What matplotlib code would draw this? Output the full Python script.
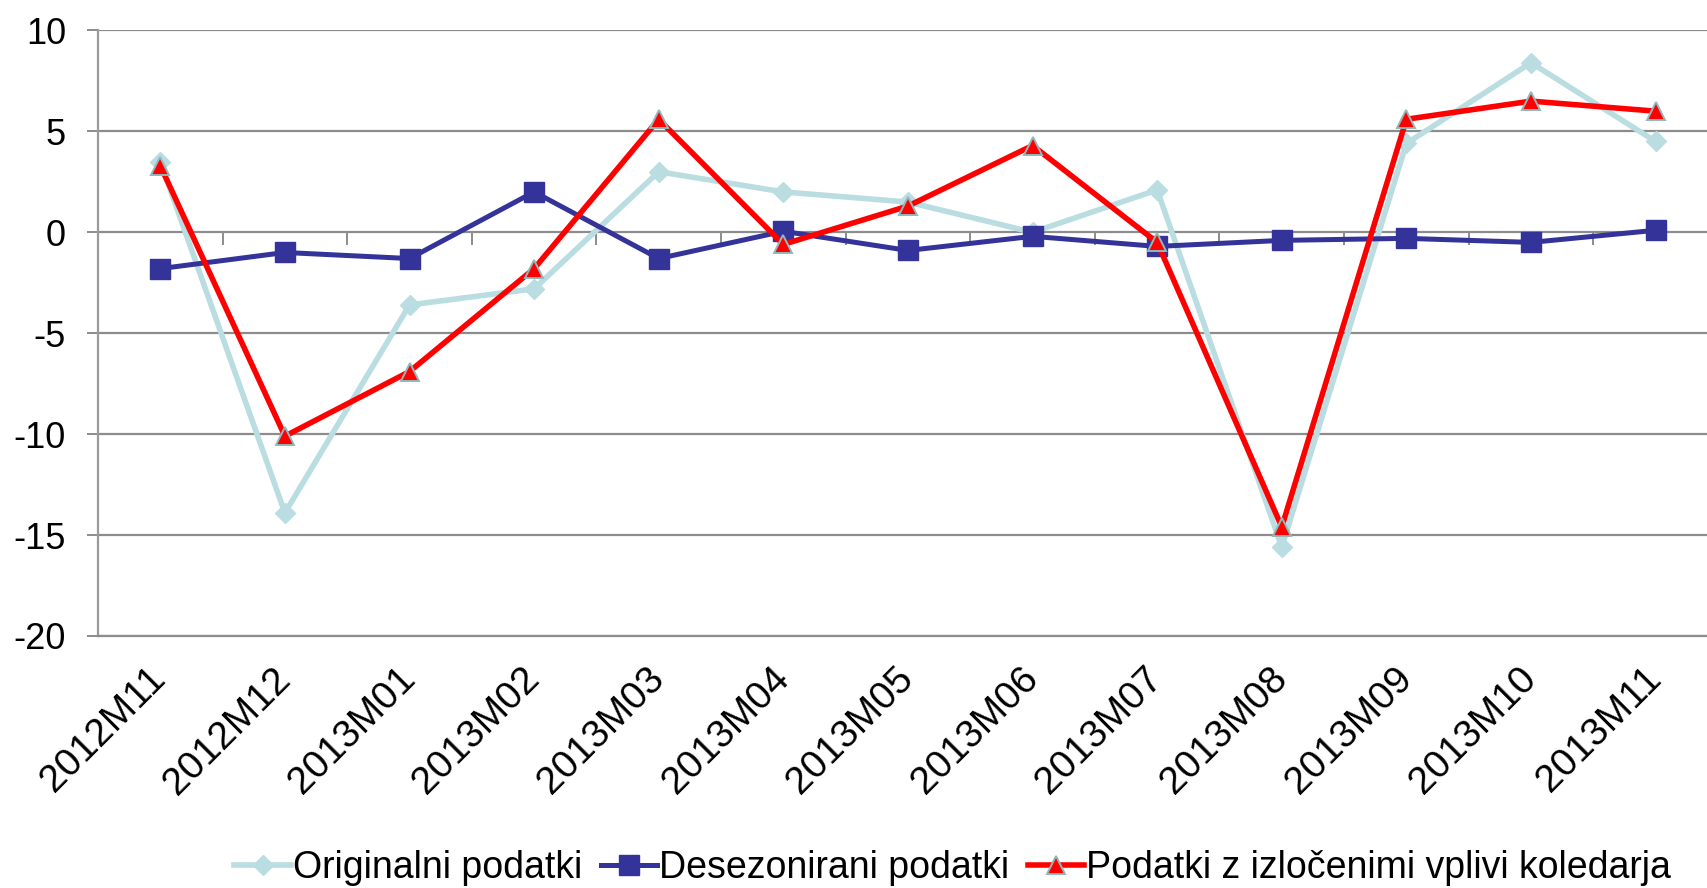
import matplotlib.pyplot as plt
from matplotlib.ticker import MultipleLocator, FixedLocator

plt.rcParams['font.family'] = ['Liberation Sans', 'DejaVu Sans']
plt.rcParams['axes.unicode_minus'] = False

meseci = ['2012M11', '2012M12', '2013M01', '2013M02', '2013M03', '2013M04', '2013M05',
          '2013M06', '2013M07', '2013M08', '2013M09', '2013M10', '2013M11']
originalni = [3.5, -13.9, -3.6, -2.8, 3.0, 2.0, 1.5, 0.0, 2.1, -15.6, 4.4, 8.4, 4.5]
desezonirani = [-1.8, -1.0, -1.3, 2.0, -1.3, 0.05, -0.9, -0.2, -0.7, -0.4, -0.3, -0.5, 0.1]
koledar = [3.3, -10.1, -6.9, -1.8, 5.6, -0.6, 1.3, 4.3, -0.5, -14.6, 5.6, 6.5, 6.0]

fig = plt.figure(figsize=(17.07, 8.88), dpi=100)
ax = fig.add_axes([0.0574, 0.2838, 0.949, 0.6819])

x = range(len(meseci))
ax.plot(x, originalni, color='#B9DDE0', lw=4.0, marker='D', ms=10,
        mfc='#B9DDE0', mec='#B9DDE0', label='Originalni podatki', zorder=3)
ax.plot(x, desezonirani, color='#333399', lw=3.6, marker='s', ms=14,
        mfc='#333399', mec='#333399', label='Desezonirani podatki', zorder=4)
ax.plot(x, koledar, color='#FF0000', lw=4.0, marker='^', ms=13.5,
        mfc='#FF0000', mec='#8FB9BC', mew=1.4, label='Podatki z izločenimi vplivi koledarja', zorder=5)

ax.set_xlim(-0.5, len(meseci) - 0.5)
ax.set_ylim(-20, 10)
ax.yaxis.set_major_locator(MultipleLocator(5))
ax.grid(axis='y', color='#8C8C8C', lw=1.6)
ax.set_axisbelow(True)

for s in ['top', 'right']:
    ax.spines[s].set_visible(False)
ax.spines['left'].set_color('#9A9A9A')
ax.spines['left'].set_linewidth(1.6)
ax.spines['bottom'].set_color('#8C8C8C')
ax.spines['bottom'].set_linewidth(1.6)

ax.tick_params(axis='y', length=8, width=1.4, color='#8C8C8C', pad=15, labelsize=26)
ax.set_xticks(list(x))
ax.set_xticklabels(meseci, rotation=45, ha='right', va='center', rotation_mode='anchor')
ax.tick_params(axis='x', length=0, pad=27, labelsize=28)

# kljukice na osi x (os seka pri 0)
sec = ax.secondary_xaxis(2 / 3)
sec.xaxis.set_major_locator(FixedLocator([i + 0.5 for i in range(len(meseci) - 1)]))
sec.tick_params(axis='x', direction='out', length=9, width=1.4, color='#8C8C8C', labelbottom=False, labeltop=False)
sec.set_xticklabels([])
sec.spines['bottom'].set_visible(False)
sec.spines['top'].set_visible(False)
sec.xaxis.set_ticks_position('bottom')

h, l = ax.get_legend_handles_labels()
fig.legend(h, l, loc='center', bbox_to_anchor=(0.558, 0.0225), ncol=3, frameon=False,
           fontsize=27, handlelength=1.5, handletextpad=0.05, columnspacing=0.5)

fig.savefig('out.png', dpi=100)
